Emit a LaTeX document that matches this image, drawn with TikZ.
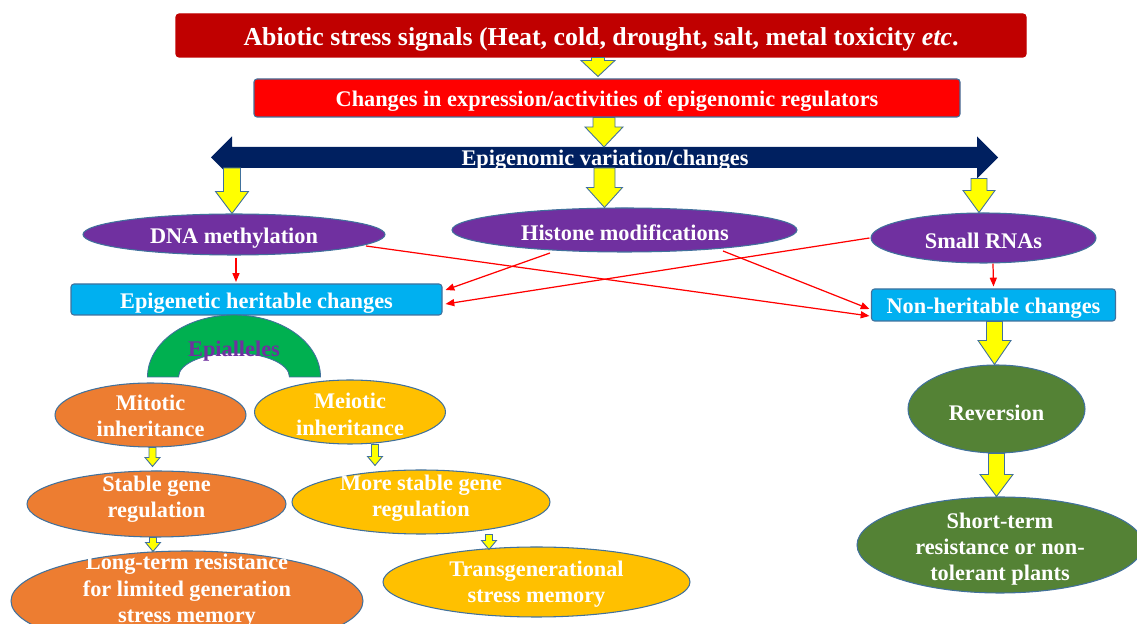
\documentclass[tikz,border=0pt]{standalone}
\usepackage{fontspec}
\setmainfont{Liberation Serif}
\usetikzlibrary{calc,shapes.geometric,arrows.meta}
\definecolor{cTop}{HTML}{C00000}
\definecolor{cRed}{HTML}{FF0000}
\definecolor{cNavy}{HTML}{002060}
\definecolor{cPurple}{HTML}{7030A0}
\definecolor{cBlue}{HTML}{00B0F0}
\definecolor{cGreen}{HTML}{00B050}
\definecolor{cOrange}{HTML}{ED7D31}
\definecolor{cGold}{HTML}{FFC000}
\definecolor{cOlive}{HTML}{548235}
\definecolor{cYel}{HTML}{FFFF00}
\definecolor{cEdge}{HTML}{41719C}
\newcommand\barrow[5]{%
  \draw[yarrow] let \p1=#1, \p2=#2 in
    ({\x1-#3*0.02cm},\y1) -- ({\x1+#3*0.02cm},\y1) --
    ({\x1+#3*0.02cm},{\y2+#5*0.02cm}) -- ({\x1+#4*0.02cm},{\y2+#5*0.02cm}) --
    (\x1,\y2) -- ({\x1-#4*0.02cm},{\y2+#5*0.02cm}) --
    ({\x1-#3*0.02cm},{\y2+#5*0.02cm}) -- cycle;}
\begin{document}
\begin{tikzpicture}[x=0.02cm,y=-0.02cm,
  box/.style={rectangle, rounded corners=0.06cm, draw=cEdge, line width=0.6pt, inner sep=0pt},
  ell/.style={ellipse, draw=cEdge, line width=0.6pt, inner sep=0pt},
  txt/.style={text=white, font=\bfseries\fontsize{12.7pt}{15pt}\selectfont, align=center, inner sep=0pt, yshift=-0.04cm},
  yarrow/.style={fill=cYel, draw=cEdge, line width=0.5pt, line join=miter},
  rarr/.style={draw=cRed, line width=0.7pt, -{Triangle[length=5pt,width=4pt]}}]
\useasboundingbox (0,0) rectangle (1137,624);
\clip (0,0) rectangle (1137,624);

% top boxes
\node[box, fill=cTop, draw=cTop, minimum width={850*0.02cm}, minimum height={43*0.02cm}] (top) at (601,35.5) {};
\node[txt, font=\bfseries\fontsize{14.7pt}{17pt}\selectfont] (topT) at (601,37) {Abiotic stress signals (Heat, cold, drought, salt, metal toxicity \textit{etc}.};
\node[box, fill=cRed, minimum width={706*0.02cm}, minimum height={38*0.02cm}] (chg) at (607,98) {};
\node[txt] (chgT) at (607,99.5) {Changes in expression/activities of epigenomic regulators};

% double arrow
\coordinate (varc) at (604.5,157.5);
\fill[cNavy] (211,157.5) -- (232,136.5) -- (232,147) -- (977,147) -- (977,136.5) -- (998,157.5)
  -- (977,178.5) -- (977,168) -- (232,168) -- (232,178.5) -- cycle;
\node[txt] (var) at (605,158) {Epigenomic variation/changes};

% purple ellipses
\node[ell, fill=cPurple, minimum width={302*0.02cm}, minimum height={41*0.02cm}] (dna) at (234,234.5) {};
\node[txt] (dnaT) at (234,236) {DNA methylation};
\node[ell, fill=cPurple, minimum width={345*0.02cm}, minimum height={44*0.02cm}] (his) at (624.5,230) {};
\node[txt] (hisT) at (625,231) {Histone modifications};
\node[ell, fill=cPurple, minimum width={225*0.02cm}, minimum height={50*0.02cm}] (srna) at (983.5,238) {};
\node[txt] (srnaT) at (983.5,239) {Small RNAs};

% blue boxes
\node[box, fill=cBlue, minimum width={371*0.02cm}, minimum height={31*0.02cm}] (epi) at (256.5,299.5) {};
\node[txt] (epiT) at (256.5,301) {Epigenetic heritable changes};
\node[box, fill=cBlue, minimum width={244*0.02cm}, minimum height={32*0.02cm}] (non) at (993.5,305) {};
\node[txt] (nonT) at (993.5,306.5) {Non-heritable changes};

% epialleles arch
\draw[fill=cGreen, draw=cEdge, line width=0.5pt] (147.5,377) arc[start angle=180, end angle=360, x radius=86.5, y radius=62]
  -- (289.5,377) arc[start angle=360, end angle=180, x radius=55.5, y radius=24] -- cycle;
\node[txt, text=cPurple] (epal) at (234,349) {Epialleles};

% lower left ellipses
\node[ell, fill=cOrange, minimum width={191*0.02cm}, minimum height={64*0.02cm}] (mit) at (150.5,415) {};
\node[txt] (mitT) at (150.5,414) {Mitotic\\inheritance};
\node[ell, fill=cGold, minimum width={191*0.02cm}, minimum height={64*0.02cm}] (mei) at (350,412) {};
\node[txt] (meiT) at (350,412.5) {Meiotic\\inheritance};
\node[ell, fill=cOrange, minimum width={259*0.02cm}, minimum height={66*0.02cm}] (stab) at (156.5,504) {};
\node[txt] (stabT) at (156.5,497.5) {Stable gene\\regulation};
\node[ell, fill=cGold, minimum width={258*0.02cm}, minimum height={64*0.02cm}] (more) at (421,502) {};
\node[txt] (moreT) at (421,496.5) {More stable gene\\regulation};
\node[ell, fill=cOrange, minimum width={352*0.02cm}, minimum height={100*0.02cm}] (long) at (187,601) {};
\node[txt] (longT) at (187,589) {Long-term resistance\\for limited generation\\stress memory};
\node[ell, fill=cGold, minimum width={307*0.02cm}, minimum height={70*0.02cm}] (trans) at (536.5,582) {};
\node[txt] (transT) at (536.5,582) {Transgenerational\\stress memory};

% right green ellipses
\node[ell, fill=cOlive, minimum width={177*0.02cm}, minimum height={88*0.02cm}] (rev) at (996.5,409) {};
\node[txt] (revT) at (996.5,411) {Reversion};
\node[ell, fill=cOlive, minimum width={286*0.02cm}, minimum height={96*0.02cm}] (short) at (1000,545) {};
\node[txt] (shortT) at (1000,547) {Short-term\\resistance or non-\\tolerant plants};

% red connectors
\draw[rarr] ($(dna.south)+(2,2)$) -- ($(epi.north)+(-20.5,-1.5)$);
\draw[rarr] ($(dna.center)+(132,11.5)$) -- ($(non.west)+(-1.5,11)$);
\draw[rarr] ($(his.center)+(-74.5,23)$) -- ($(epi.east)+(3,-9.5)$);
\draw[rarr] ($(srna.west)+(-1,0)$) -- ($(epi.east)+(3,4.5)$);
\draw[rarr] ($(his.center)+(98.5,21)$) -- ($(non.west)+(-1.5,4)$);
\draw[rarr] ($(srna.south)+(9.5,0)$) -- ($(non.north)+(0,-2)$);

% yellow block arrows
\barrow{($(top.south)+(-3,0)$)}{($(chg.north)+(0,-2)$)}{6.5}{17}{16}
\barrow{($(chg.south)+(-3,0)$)}{($(varc)+(0,-10.5)$)}{11}{19}{20}
\barrow{($(varc)+(-372.5,10.5)$)}{(dna.north)}{8.5}{16.5}{22}
\barrow{($(varc)+(0,10.5)$)}{(his.north)}{10.5}{18}{20}
\barrow{($(varc)+(374.5,21)$)}{(srna.north)}{8}{16}{22}
\barrow{($(mit.south)+(2,0)$)}{($(stab.north)+(0,-4)$)}{3.5}{7.5}{9}
\barrow{($(mei.south)+(25,0)$)}{($(more.north)+(0,-4)$)}{3.5}{7.5}{9}
\barrow{($(stab.south)+(-3.5,0)$)}{($(long.north)+(0,1)$)}{3.5}{7.5}{9}
\barrow{($(more.south)+(68,0)$)}{($(trans.north)+(0,3)$)}{3.5}{7.5}{9}
\barrow{($(non.south)+(1,0)$)}{(rev.north)}{8}{16.5}{24}
\barrow{(rev.south)}{(short.north)}{8}{16.5}{22}
\end{tikzpicture}
\end{document}
